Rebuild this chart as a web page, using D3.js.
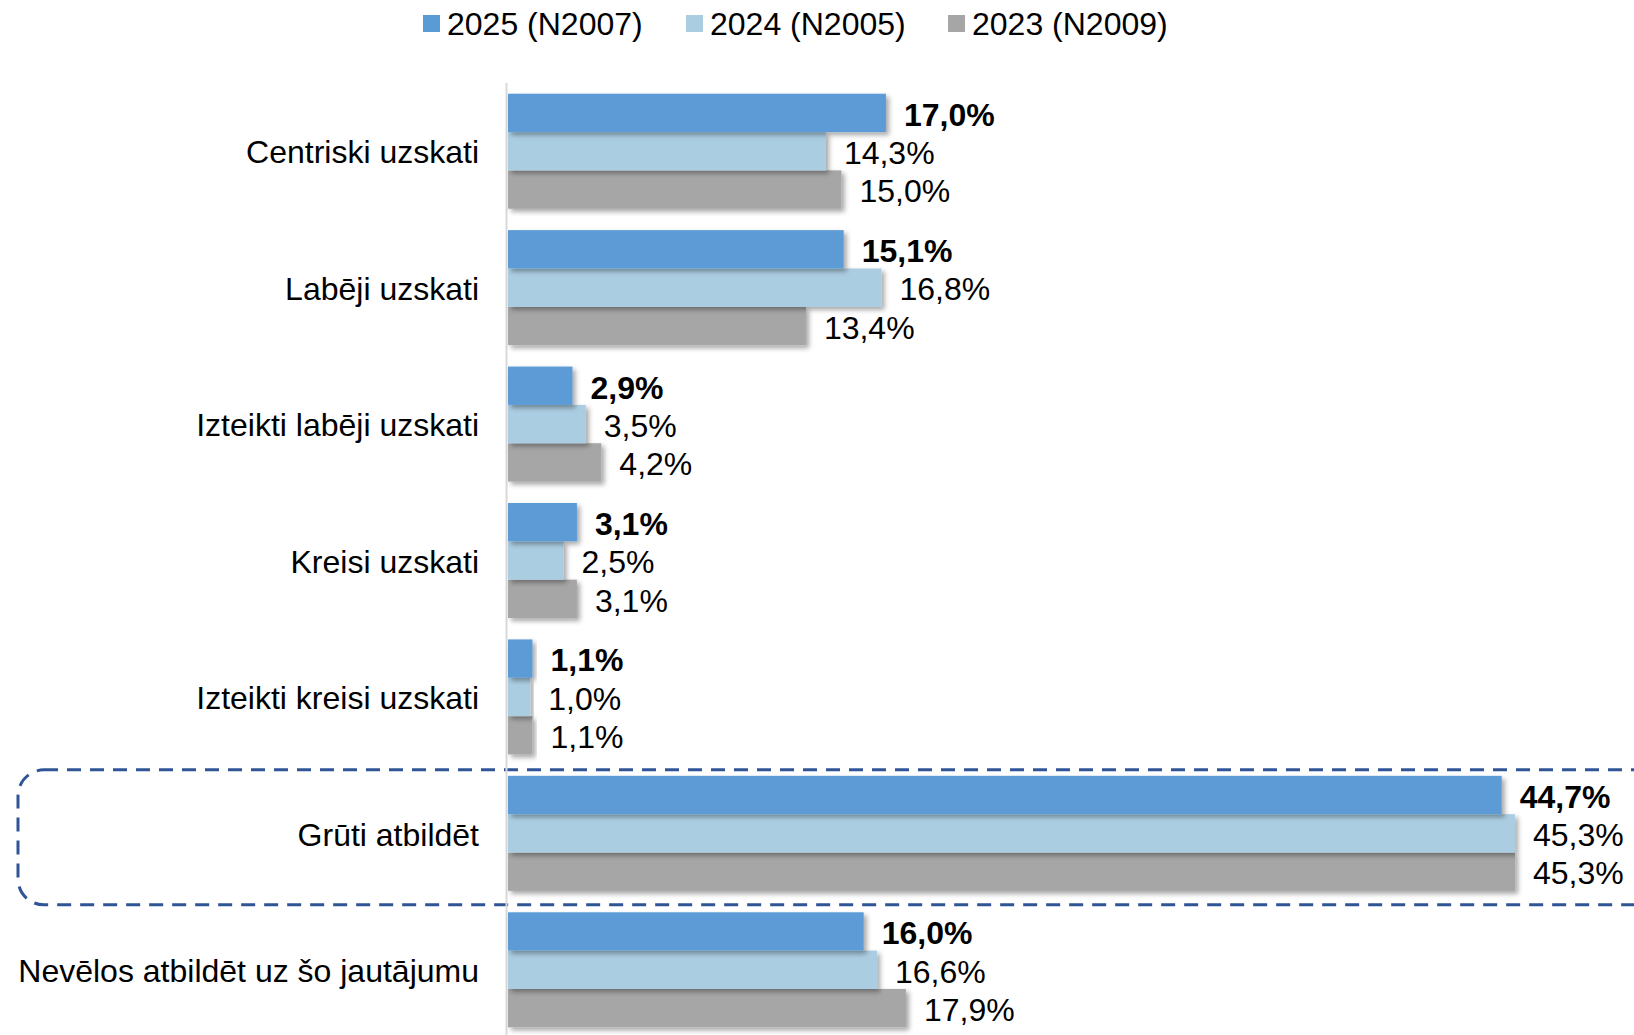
<!DOCTYPE html>
<html>
<head>
<meta charset="utf-8">
<script src="https://d3js.org/d3.v7.min.js"></script>
<style>
  body { margin: 0; background: #fff; }
  text { font-family: "Liberation Sans", Arial, sans-serif; fill: #000; }
</style>
</head>
<body>
<div id="chart"></div>
<script>
var svgWidth = 1634;
var svgHeight = 1035;

// chart data
var categories = [
  "Centriski uzskati",
  "Labēji uzskati",
  "Izteikti labēji uzskati",
  "Kreisi uzskati",
  "Izteikti kreisi uzskati",
  "Grūti atbildēt",
  "Nevēlos atbildēt uz šo jautājumu"
];
var seriesNames = ["2025 (N2007)", "2024 (N2005)", "2023 (N2009)"];
var values2025 = [17.0, 15.1, 2.9, 3.1, 1.1, 44.7, 16.0];
var values2024 = [14.3, 16.8, 3.5, 2.5, 1.0, 45.3, 16.6];
var values2023 = [15.0, 13.4, 4.2, 3.1, 1.1, 45.3, 17.9];
var highlighted = "Grūti atbildēt";

var colors = ["#5B9BD5", "#ABCDE2", "#A6A6A6"];
var allSeries = [values2025, values2024, values2023];

var margin = { top: 83, left: 508 };

var svg = d3.select("#chart")
  .append("svg")
  .attr("width", svgWidth)
  .attr("height", svgHeight);

// soft shadow under the bars
var defs = svg.append("defs");
var shadow = defs.append("filter")
  .attr("id", "shadow")
  .attr("x", "-5%").attr("y", "-20%")
  .attr("width", "120%").attr("height", "160%");
shadow.append("feDropShadow")
  .attr("dx", 3)
  .attr("dy", 3)
  .attr("stdDeviation", 2.5)
  .attr("flood-color", "#000")
  .attr("flood-opacity", 0.35);

var xScale = d3.scaleLinear()
  .domain([0, 50])
  .range([margin.left, margin.left + 50 * 22.23]);

var yScale = d3.scaleBand()
  .domain(categories)
  .range([margin.top, 1038])
  .paddingInner(0.157)
  .paddingOuter(0.0785);

var subScale = d3.scaleBand()
  .domain([0, 1, 2])
  .range([0, yScale.bandwidth()]);

// dashed highlight box
svg.append("rect")
  .attr("x", 18)
  .attr("y", yScale(highlighted) - 6)
  .attr("width", 1720)
  .attr("height", yScale.bandwidth() + 20)
  .attr("rx", 26)
  .attr("ry", 26)
  .attr("fill", "none")
  .attr("stroke", "#2F5597")
  .attr("stroke-width", 3)
  .attr("stroke-dasharray", "14,9");

// axis line
svg.append("line")
  .attr("x1", xScale(0) - 1.5)
  .attr("x2", xScale(0) - 1.5)
  .attr("y1", margin.top)
  .attr("y2", svgHeight)
  .attr("stroke", "#D9D9D9")
  .attr("stroke-width", 2);

var groups = svg.selectAll(".group")
  .data(categories)
  .enter()
  .append("g")
  .attr("class", "group")
  .attr("transform", d => `translate(0, ${yScale(d)})`);

groups.each(function(cat, i) {
  var g = d3.select(this);
  var rows = allSeries.map((s, k) => ({ k: k, v: s[i] }));

  // draw from the bottom row up so the shadow of each bar sits under the next
  g.selectAll("rect")
    .data(rows.slice().reverse())
    .enter()
    .append("rect")
    .attr("x", xScale(0))
    .attr("y", d => subScale(d.k))
    .attr("width", d => xScale(d.v) - xScale(0))
    .attr("height", subScale.bandwidth())
    .attr("fill", d => colors[d.k])
    .attr("filter", "url(#shadow)");

  g.selectAll(".val")
    .data(rows)
    .enter()
    .append("text")
    .attr("class", "val")
    .attr("x", d => xScale(d.v) + 18)
    .attr("y", d => subScale(d.k) + subScale.bandwidth() / 2)
    .attr("dy", "0.4em")
    .style("font-size", "32px")
    .style("font-weight", d => d.k === 0 ? "bold" : "normal")
    .text(d => d.v.toFixed(1).replace(".", ",") + "%");

  g.append("text")
    .attr("x", 479)
    .attr("y", yScale.bandwidth() / 2)
    .attr("dy", "0.38em")
    .attr("text-anchor", "end")
    .style("font-size", "32px")
    .text(cat);
});

// legend
var legendX = [423, 686, 948];
var legend = svg.selectAll(".legend")
  .data(seriesNames)
  .enter()
  .append("g")
  .attr("class", "legend")
  .attr("transform", (d, i) => `translate(${legendX[i]}, 0)`);

legend.append("rect")
  .attr("x", 0)
  .attr("y", 15)
  .attr("width", 17)
  .attr("height", 17)
  .attr("fill", (d, i) => colors[i]);

legend.append("text")
  .attr("x", 24)
  .attr("y", 23.5)
  .attr("dy", "0.36em")
  .style("font-size", "32px")
  .text(d => d);
</script>
</body>
</html>
